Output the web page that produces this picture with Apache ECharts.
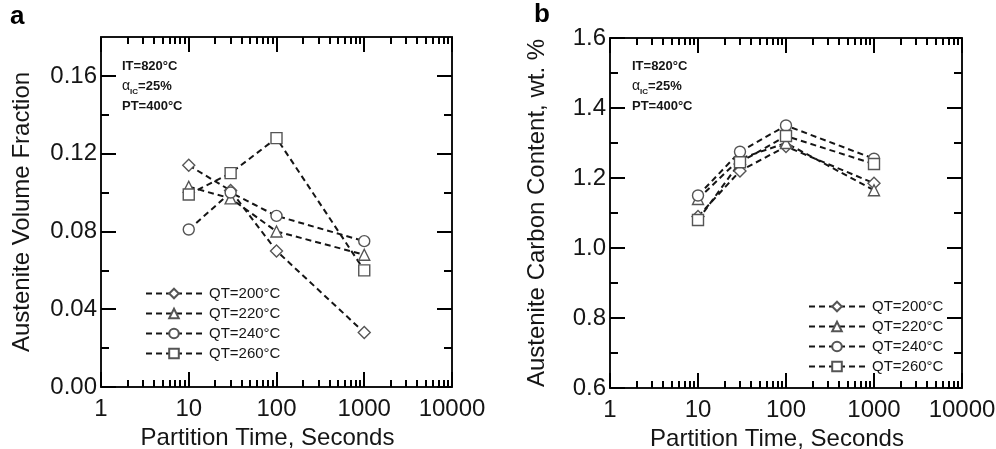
<!DOCTYPE html>
<html>
<head>
<meta charset="utf-8">
<script src="https://cdn.jsdelivr.net/npm/echarts@6/dist/echarts.min.js"></script>
<style>
html, body { margin: 0; padding: 0; background: #fff; }
#chart { width: 996px; height: 449px; }
</style>
</head>
<body>
<div id="chart"></div>
<script>
// legend names + partition times (s)
const seriesNames = ['QT=200°C', 'QT=220°C', 'QT=240°C', 'QT=260°C']
const partitionTimes = [10, 30, 100, 1000]

// (a) austenite volume fraction
const fractionQT200 = [0.114, 0.101, 0.070, 0.028]
const fractionQT220 = [0.103, 0.097, 0.080, 0.068]
const fractionQT240 = [0.081, 0.100, 0.088, 0.075]
const fractionQT260 = [0.099, 0.110, 0.128, 0.060]

// (b) austenite carbon content, wt.%
const carbonQT200 = [1.09, 1.22, 1.29, 1.185]
const carbonQT220 = [1.14, 1.255, 1.30, 1.165]
const carbonQT240 = [1.15, 1.275, 1.35, 1.255]
const carbonQT260 = [1.08, 1.245, 1.32, 1.24]

// tick values
const xMajorTicks = [1, 10, 100, 1000, 10000]
const xMinorTicks = []
xMajorTicks.slice(0, 4).forEach((d) => {
    for (let k = 2; k <= 9; k++) xMinorTicks.push(d * k)
})
const yMajorA = [0, 0.04, 0.08, 0.12, 0.16]
const yMinorA = [0.02, 0.06, 0.10, 0.14]
const yMajorB = [0.6, 0.8, 1.0, 1.2, 1.4, 1.6]
const yMinorB = [0.7, 0.9, 1.1, 1.3, 1.5]

const markers = ['path://M0,-1L1,0L0,1L-1,0Z', 'triangle', 'circle', 'rect']
const FONT = 'Liberation Sans, Arial, sans-serif'
const INK = '#151515'

const chart = echarts.init(document.getElementById('chart'))

// fixed plot boxes, labels may sit outside
const gridA = { left: 101, right: 544, top: 37, bottom: 62, outerBoundsMode: 'none' }
const gridB = { left: 610, right: 34, top: 38, bottom: 61, outerBoundsMode: 'none' }

// minor-tick axes keep an invisible line, otherwise ticks are dropped
function xAxisFor(gridIndex, position, ticks, len, major, name) {
    return {
        type: 'log',
        logBase: 10,
        gridIndex: gridIndex,
        position: position,
        min: 1,
        max: 10000,
        name: name || '',
        nameLocation: 'middle',
        nameGap: 26,
        nameTextStyle: { fontFamily: FONT, fontSize: 24, color: INK, padding: [0, 18, 0, 0] },
        axisLine: { show: true, onZero: false, lineStyle: { color: INK, width: major ? 2 : 0, opacity: major ? 1 : 0 } },
        axisTick: { show: true, inside: true, length: len, customValues: ticks, lineStyle: { color: '#000', width: 2, opacity: 1 } },
        axisLabel: {
            show: major && position === 'bottom',
            customValues: ticks,
            margin: 10,
            fontFamily: FONT,
            fontSize: 24,
            color: INK,
            formatter: (v) => String(Math.round(v))
        },
        splitLine: { show: false }
    }
}

function yAxisFor(gridIndex, position, min, max, ticks, len, major, digits, name, nameGap) {
    return {
        type: 'value',
        gridIndex: gridIndex,
        position: position,
        min: min,
        max: max,
        name: name || '',
        nameLocation: 'middle',
        nameGap: nameGap || 0,
        nameTextStyle: { fontFamily: FONT, fontSize: 24, color: INK },
        axisLine: { show: true, onZero: false, lineStyle: { color: INK, width: major ? 2 : 0, opacity: major ? 1 : 0 } },
        axisTick: { show: true, inside: true, length: len, customValues: ticks, lineStyle: { color: '#000', width: 2, opacity: 1 } },
        axisLabel: {
            show: major && position === 'left',
            customValues: ticks,
            margin: 4,
            fontFamily: FONT,
            fontSize: 24,
            color: INK,
            formatter: (v) => v.toFixed(digits)
        },
        splitLine: { show: false }
    }
}

function makeSeries(name, idx, values, axisIndex) {
    return {
        name: name,
        type: 'line',
        xAxisIndex: axisIndex,
        yAxisIndex: axisIndex,
        data: partitionTimes.map((t, i) => [t, values[i]]),
        symbol: markers[idx],
        symbolSize: idx === 0 ? 12 : 11,
        showAllSymbol: true,
        lineStyle: { color: INK, width: 2, type: [6, 4] },
        itemStyle: { color: '#fff', borderColor: '#555', borderWidth: 1.4 },
        z: 3
    }
}

function annotation(left, top) {
    return {
        type: 'text',
        left: left,
        top: top,
        style: {
            text: 'IT=820°C\n{a|α}{s|IC}=25%\nPT=400°C',
            font: 'bold 13px ' + FONT,
            fill: INK,
            lineHeight: 20,
            rich: {
                a: { font: '14px ' + FONT, fill: INK, lineHeight: 20 },
                s: { font: 'bold 8px ' + FONT, fill: INK, lineHeight: 20, verticalAlign: 'bottom', padding: [6, 0, 0, 0] }
            }
        }
    }
}

const legendBase = {
    orient: 'vertical',
    itemWidth: 56,
    itemHeight: 12,
    itemGap: 5,
    textStyle: { fontFamily: FONT, fontSize: 15, color: INK, padding: [0, 0, 0, 2] },
    data: seriesNames,
    selectedMode: false
}

const option = {
    animation: false,
    backgroundColor: '#fff',
    grid: [
        Object.assign({}, gridA),
        Object.assign({}, gridA),
        Object.assign({}, gridB),
        Object.assign({}, gridB)
    ],
    xAxis: [
        xAxisFor(0, 'bottom', xMajorTicks, 15, true, 'Partition Time, Seconds'),
        xAxisFor(0, 'top', xMajorTicks, 15, true),
        xAxisFor(1, 'bottom', xMinorTicks, 7, false),
        xAxisFor(1, 'top', xMinorTicks, 7, false),
        xAxisFor(2, 'bottom', xMajorTicks, 15, true, 'Partition Time, Seconds'),
        xAxisFor(2, 'top', xMajorTicks, 15, true),
        xAxisFor(3, 'bottom', xMinorTicks, 7, false),
        xAxisFor(3, 'top', xMinorTicks, 7, false)
    ],
    yAxis: [
        yAxisFor(0, 'left', 0, 0.18, yMajorA, 15, true, 2, 'Austenite Volume Fraction', 67),
        yAxisFor(0, 'right', 0, 0.18, yMajorA, 15, true, 2),
        yAxisFor(1, 'left', 0, 0.18, yMinorA, 8, false, 2),
        yAxisFor(1, 'right', 0, 0.18, yMinorA, 8, false, 2),
        yAxisFor(2, 'left', 0.6, 1.6, yMajorB, 15, true, 1, 'Austenite Carbon Content, wt. %', 61),
        yAxisFor(2, 'right', 0.6, 1.6, yMajorB, 15, true, 1),
        yAxisFor(3, 'left', 0.6, 1.6, yMinorB, 8, false, 1),
        yAxisFor(3, 'right', 0.6, 1.6, yMinorB, 8, false, 1)
    ],
    legend: [
        Object.assign({ left: 140, top: 281 }, legendBase),
        Object.assign({ left: 803, top: 294 }, legendBase)
    ],
    series: [
        makeSeries(seriesNames[0], 0, fractionQT200, 0),
        makeSeries(seriesNames[1], 1, fractionQT220, 0),
        makeSeries(seriesNames[2], 2, fractionQT240, 0),
        makeSeries(seriesNames[3], 3, fractionQT260, 0),
        makeSeries(seriesNames[0], 0, carbonQT200, 4),
        makeSeries(seriesNames[1], 1, carbonQT220, 4),
        makeSeries(seriesNames[2], 2, carbonQT240, 4),
        makeSeries(seriesNames[3], 3, carbonQT260, 4)
    ],
    graphic: [
        { type: 'text', left: 10, top: 4, style: { text: 'a', font: 'bold 26px ' + FONT, fill: '#000' } },
        { type: 'text', left: 534, top: 2, style: { text: 'b', font: 'bold 26px ' + FONT, fill: '#000' } },
        annotation(122, 56),
        annotation(632, 56)
    ]
}

chart.setOption(option)
</script>
</body>
</html>
